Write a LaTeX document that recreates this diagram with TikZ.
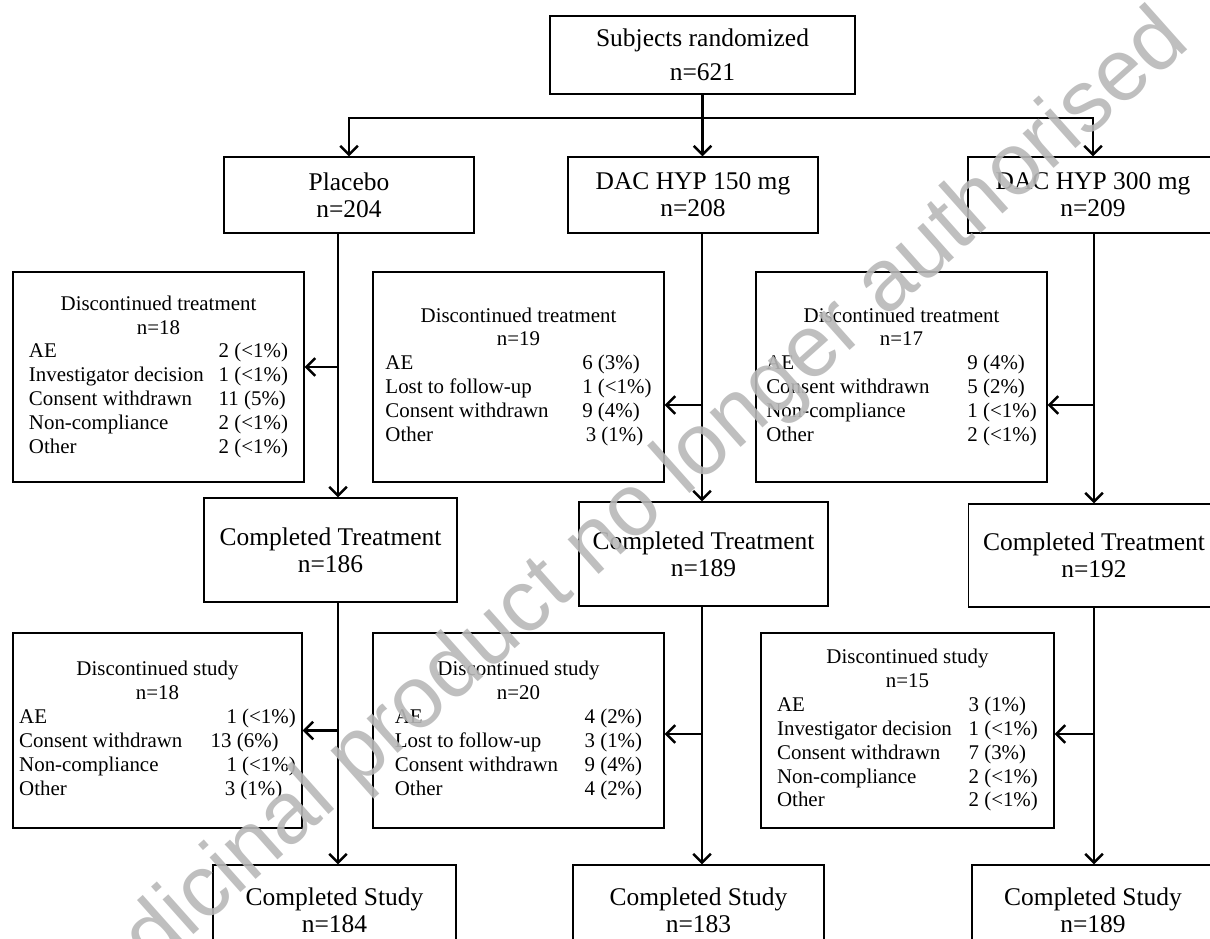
\documentclass[tikz,border=0pt]{standalone}
\usepackage{fontspec}
\setmainfont{Liberation Serif}
\newfontfamily\wmfont{Liberation Sans}
\usetikzlibrary{arrows.meta,calc}

\newcommand{\bigtext}{\fontsize{14.5}{15.5}\selectfont}
\newcommand{\smalltext}{\fontsize{11.9}{13.6}\selectfont}

\begin{document}
\begin{tikzpicture}[x=0.02cm,y=-0.02cm,>={Straight Barb[length=5pt,width=10pt]},
		wh/.style 2 args={minimum width=#1*0.02cm,minimum height=#2*0.02cm},
		box/.style={draw,line width=0.8pt,align=center,inner sep=0pt,font=\bigtext},
		listbox/.style={draw,line width=0.8pt,inner sep=0pt,font=\smalltext},
		flow/.style={->,line width=1.4pt}]
		\useasboundingbox (0,0) rectangle (1210,938);
		\clip (0,0) rectangle (1210,938);
		% top and the three arms
		\node [box,wh={305}{78}] (rand) at (702.5,55) {Subjects randomized\\[4pt]n=621};
		\foreach \name/\x/\lbl/\cnt in {pla/349/Placebo/204,d150/693/DAC HYP 150 mg/208,d300/1093/DAC HYP 300 mg/209}
			\node [box,wh={250}{76}] (\name) at (\x,195) {\lbl\\n=\cnt};
		\coordinate (br) at (702.5,118);
		\draw [line width=1.4pt] (rand.south) -- (br);
		\draw [flow] (br) -| (pla.north);
		\draw [flow] (br) -| (d300.north);
		\draw [flow] (br) -- (br |- d150.north);
		% completed boxes
		\node [box,wh={253}{104}] (ctP) at (330.5,550) {Completed Treatment\\n=186};
		\node [box,wh={249}{104}] (ct150) at (703.5,554) {Completed Treatment\\n=189};
		\node [box,wh={251}{103}] (ct300) at (1094,555.5) {Completed Treatment\\n=192};
		\node [box,wh={243}{90}] (csP) at (334.5,910) {Completed Study\\n=184};
		\node [box,wh={251}{90}] (cs150) at (698.5,910) {Completed Study\\n=183};
		\node [box,wh={242}{90}] (cs300) at (1093,910) {Completed Study\\n=189};
		% discontinued treatment
		\node [listbox,wh={291}{210}] (dtP) at (158.5,377) {\begin{tabular}{@{}p{108pt}@{}l@{}}
				\multicolumn{2}{@{}c@{}}{Discontinued treatment}\\
				\multicolumn{2}{@{}c@{}}{n=18}\\
				AE & 2 (<1\%)\\
				Investigator decision & 1 (<1\%)\\
				Consent withdrawn & 11 (5\%)\\
				Non-compliance & 2 (<1\%)\\
				Other & 2 (<1\%)
			\end{tabular}};
		\node [listbox,wh={291}{210}] (dt150) at (518.5,377) {\begin{tabular}{@{}p{112pt}@{}l@{}}
				\multicolumn{2}{@{}c@{}}{Discontinued treatment}\\
				\multicolumn{2}{@{}c@{}}{n=19}\\
				AE & 6 (3\%)\\
				Lost to follow-up & 1 (<1\%)\\
				Consent withdrawn & 9 (4\%)\\
				Other & \hspace*{2pt}3 (1\%)
			\end{tabular}};
		\node [listbox,wh={291}{210}] (dt300) at (901.5,377) {\begin{tabular}{@{}p{114.5pt}@{}l@{}}
				\multicolumn{2}{@{}c@{}}{Discontinued treatment}\\
				\multicolumn{2}{@{}c@{}}{n=17}\\
				AE & 9 (4\%)\\
				Consent withdrawn & 5 (2\%)\\
				Non-compliance & 1 (<1\%)\\
				Other & 2 (<1\%)
			\end{tabular}};
		% discontinued study
		\node [listbox,wh={289}{195}] (dsP) at (157.5,730.5) {\begin{tabular}{@{}p{109pt}@{}l@{}}
				\multicolumn{2}{@{}c@{}}{Discontinued study}\\
				\multicolumn{2}{@{}c@{}}{n=18}\\
				AE & \hspace*{9pt}1 (<1\%)\\
				Consent withdrawn & 13 (6\%)\\
				Non-compliance & \hspace*{9pt}1 (<1\%)\\
				Other & \hspace*{8pt}3 (1\%)
			\end{tabular}};
		\node [listbox,wh={291}{195}] (ds150) at (518.5,730.5) {\begin{tabular}{@{}p{108pt}@{}l@{}}
				\multicolumn{2}{@{}c@{}}{Discontinued study}\\
				\multicolumn{2}{@{}c@{}}{n=20}\\
				AE & 4 (2\%)\\
				Lost to follow-up & 3 (1\%)\\
				Consent withdrawn & 9 (4\%)\\
				Other & 4 (2\%)
			\end{tabular}};
		\node [listbox,wh={293}{195}] (ds300) at (907.5,730.5) {\begin{tabular}{@{}p{109pt}@{}l@{}}
				\multicolumn{2}{@{}c@{}}{Discontinued study}\\
				\multicolumn{2}{@{}c@{}}{n=15}\\
				AE & 3 (1\%)\\
				Investigator decision & 1 (<1\%)\\
				Consent withdrawn & 7 (3\%)\\
				Non-compliance & 2 (<1\%)\\
				Other & 2 (<1\%)
			\end{tabular}};
		% columns
		\coordinate (cP) at (338,0);
		\coordinate (c150) at (702,0);
		\coordinate (c300) at (1094,0);
		\draw [flow] (pla.south -| cP) -- (ctP.north -| cP);
		\draw [flow] (ctP.south -| cP) -- (csP.north -| cP);
		\draw [flow] (d150.south -| c150) -- (ct150.north -| c150);
		\draw [flow] (ct150.south -| c150) -- (cs150.north -| c150);
		\draw [flow] (d300.south -| c300) -- (ct300.north -| c300);
		\draw [flow] (ct300.south -| c300) -- (cs300.north -| c300);
		% side arrows
		\path (dtP.east) ++(0,-10) coordinate (aP);
		\path (dt150.east) ++(0,28) coordinate (a150);
		\path (dt300.east) ++(0,28) coordinate (a300);
		\path (dsP.east) ++(0,0) coordinate (bP);
		\path (ds150.east) ++(0,3.5) coordinate (b150);
		\path (ds300.east) ++(0,3.5) coordinate (b300);
		\draw [flow] (aP -| cP) -- (aP);
		\draw [flow] (a150 -| c150) -- (a150);
		\draw [flow] (a300 -| c300) -- (a300);
		\draw [flow] (bP -| cP) -- (bP);
		\draw [flow] (b150 -| c150) -- (b150);
		\draw [flow] (b300 -| c300) -- (b300);
		% watermark
		\node [rotate=41.7,text=black!28,opacity=0.9,font=\wmfont\fontsize{50}{50}\selectfont] (wm) at (612,532) {Medicinal product no longer authorised};
	\end{tikzpicture}
\end{document}
